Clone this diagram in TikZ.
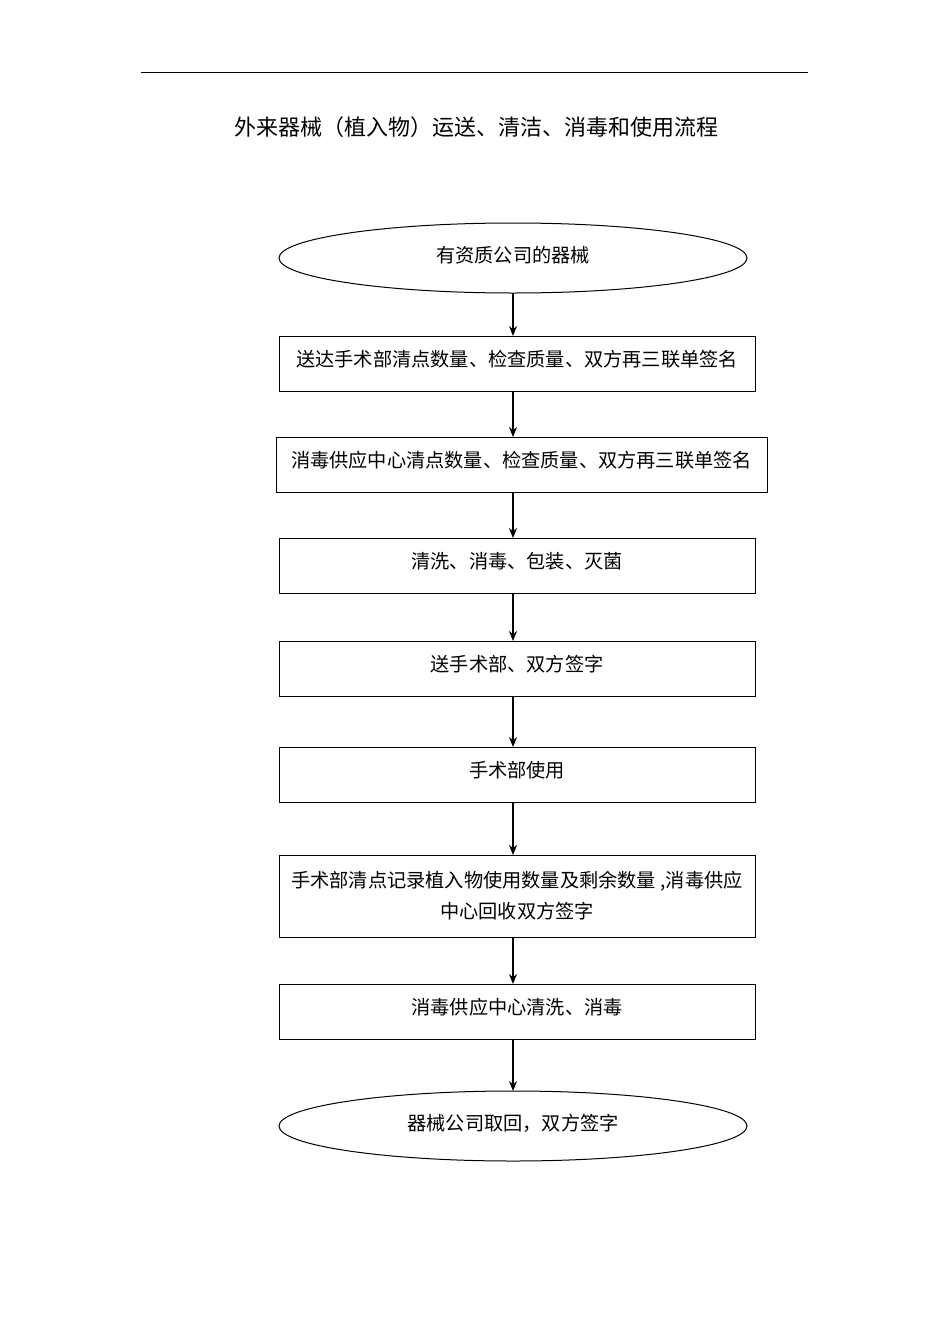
\documentclass[tikz,border=0pt]{standalone}
\usepackage{fontspec}
\newfontfamily\cjk{Noto Sans CJK SC}
\usetikzlibrary{shapes.geometric,arrows.meta}
\begin{document}
\begin{tikzpicture}[x=1pt,y=-1pt,
  box/.style={draw,line width=1pt,minimum width=476pt,minimum height=55pt,inner sep=0pt,font=\cjk\fontsize{19.2}{31}\selectfont,align=center},
  oval/.style={draw,line width=1pt,ellipse,minimum width=468pt,minimum height=70pt,inner sep=0pt,font=\cjk\fontsize{19.2}{22}\selectfont},
  arr/.style={-{Stealth[length=10pt,width=8pt]},line width=1.3pt}]
\useasboundingbox (0,0) rectangle (950,1344);
\draw[line width=1pt] (141,72) -- (808,72);
\node (t) at (476,127) {\cjk\fontsize{22}{26}\selectfont 外来器械（植入物）运送、清洁、消毒和使用流程};
\node[oval] (e1) at (513,258) {\raisebox{8pt}{有资质公司的器械}};
\node[box] (b1) at (517,364) {\raisebox{12pt}{送达手术部清点数量、检查质量、双方再三联单签名}};
\node[box,minimum width=491pt] (b2) at (521.5,465) {\raisebox{12pt}{消毒供应中心清点数量、检查质量、双方再三联单签名}};
\node[box] (b3) at (517,566) {\raisebox{12pt}{清洗、消毒、包装、灭菌}};
\node[box] (b4) at (517,669) {\raisebox{12pt}{送手术部、双方签字}};
\node[box] (b5) at (517,775) {\raisebox{12pt}{手术部使用}};
\node[box,minimum height=82pt] (b6) at (517,896) {\raisebox{12pt}{\parbox{470pt}{\centering 手术部清点记录植入物使用数量及剩余数量 ,消毒供应\\中心回收双方签字}}};
\node[box] (b7) at (517,1012) {\raisebox{12pt}{消毒供应中心清洗、消毒}};
\node[oval] (e2) at (513,1126) {\raisebox{8pt}{器械公司取回，双方签字}};
\draw[arr] (513,293) -- (513,336);
\draw[arr] (513,392) -- (513,437);
\draw[arr] (513,492) -- (513,538);
\draw[arr] (513,593) -- (513,641);
\draw[arr] (513,696) -- (513,747);
\draw[arr] (513,802) -- (513,855);
\draw[arr] (513,937) -- (513,984);
\draw[arr] (513,1039) -- (513,1091);
\end{tikzpicture}
\end{document}
